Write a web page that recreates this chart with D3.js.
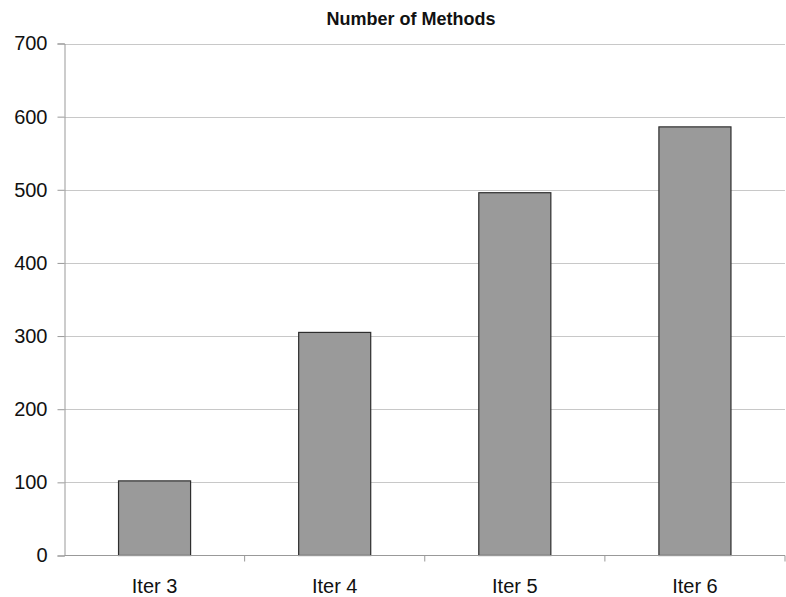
<!DOCTYPE html>
<html><head><meta charset="utf-8">
<script src="https://cdn.jsdelivr.net/npm/d3@7"></script>
<style>body{margin:0;background:#fff}svg{display:block}</style>
</head><body>
<script>
const categories = ["Iter 3", "Iter 4", "Iter 5", "Iter 6"];
const values = [102, 305, 496, 586];
const yTicks = [0, 100, 200, 300, 400, 500, 600, 700];
const title = "Number of Methods";

const W = 786, H = 597;
const m = {left: 64.5, right: 1, top: 43.5, bottom: 41.5};
const svg = d3.select("body").append("svg").attr("width", W).attr("height", H)
  .style("font-family", "'Liberation Sans', Arial, sans-serif");

const x = d3.scaleBand().domain(categories).range([m.left, W - m.right]).paddingInner(0.6).paddingOuter(0.3);
const y = d3.scaleLinear().domain([0, 700]).range([H - m.bottom, m.top]);

// gridlines
svg.append("g").selectAll("line").data(yTicks.filter(d => d > 0)).join("line")
  .attr("x1", m.left).attr("x2", W - m.right)
  .attr("y1", d => Math.round(y(d)) + 0.5).attr("y2", d => Math.round(y(d)) + 0.5)
  .attr("stroke", "#c8c8c8").attr("stroke-width", 1);

// bars
svg.append("g").selectAll("rect").data(values).join("rect")
  .attr("x", (d, i) => x(categories[i]))
  .attr("width", x.bandwidth())
  .attr("y", d => y(d))
  .attr("height", d => y(0) - y(d))
  .attr("fill", "#9a9a9a").attr("stroke", "#2e2e2e").attr("stroke-width", 1.2);

// y axis
const yAxis = d3.axisLeft(y).tickValues(yTicks).tickSize(7).tickPadding(10);
const gy = svg.append("g").attr("transform", `translate(${m.left},0)`).call(yAxis);
gy.select(".domain").attr("stroke", "#999");
gy.selectAll(".tick line").attr("stroke", "#999");
gy.selectAll(".tick text").attr("font-size", 20).attr("fill", "#111")
  .attr("font-family", "'Liberation Sans', Arial, sans-serif");

// x axis with ticks at band boundaries
const gx = svg.append("g").attr("transform", `translate(0,${y(0)})`);
gx.append("line").attr("x1", m.left).attr("x2", W - m.right).attr("y1", 0).attr("y2", 0).attr("stroke", "#999");
const step = x.step();
const boundaries = categories.map((c, i) => m.left + (i + 1) * (W - m.right - m.left) / categories.length);
gx.selectAll("line.tk").data(boundaries).join("line").attr("class", "tk")
  .attr("x1", d => d).attr("x2", d => d).attr("y1", 0).attr("y2", 6).attr("stroke", "#999");
gx.selectAll("text").data(categories).join("text")
  .attr("x", d => x(d) + x.bandwidth() / 2).attr("y", 37)
  .attr("text-anchor", "middle").attr("font-size", 20).attr("fill", "#111").text(d => d);

// title
svg.append("text").attr("x", 411).attr("y", 25).attr("text-anchor", "middle")
  .attr("font-size", 18).attr("font-weight", "bold").attr("fill", "#111").text(title);
</script>
</body></html>
